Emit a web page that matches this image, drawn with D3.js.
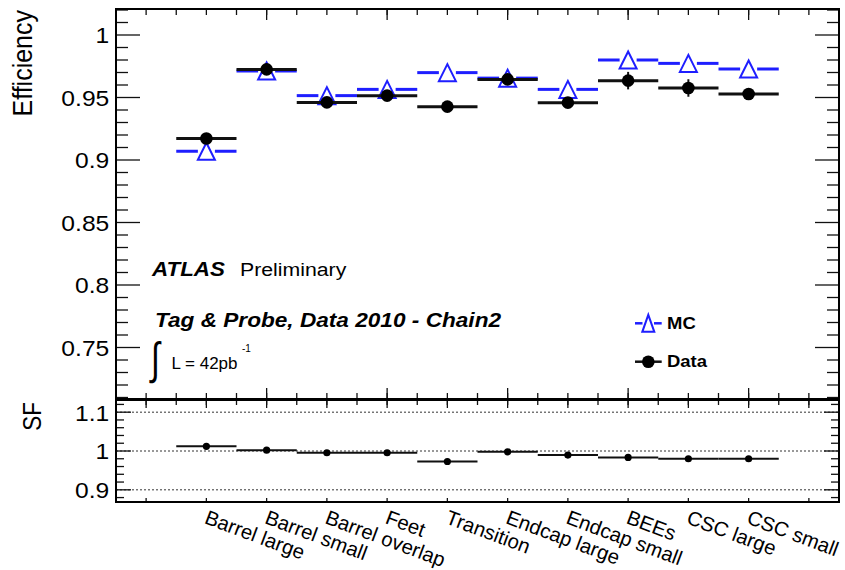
<!DOCTYPE html>
<html><head><meta charset="utf-8">
<script src="https://cdn.jsdelivr.net/npm/d3@7/dist/d3.min.js"></script>
<style>
body{margin:0;background:#fff}
svg{display:block}
text{font-family:"Liberation Sans",Arial,Helvetica,sans-serif;fill:#000}
</style>
</head><body>
<svg id="c" width="845" height="570"></svg>
<script>
// ---------------- data ----------------
const categories = ["Barrel large","Barrel small","Barrel overlap","Feet","Transition",
                    "Endcap large","Endcap small","BEEs","CSC large","CSC small"];
const mcEff   = [0.9070,0.9712,0.9515,0.9565,0.9699,0.9655,0.9565,0.9800,0.9773,0.9728];
const dataEff = [0.9172,0.9725,0.9461,0.9515,0.9427,0.9645,0.9459,0.9635,0.9576,0.9528];
const dataErr = [0.003,0.002,0.002,0.002,0.002,0.002,0.002,0.007,0.007,0.003];
const sfVals  = [1.012,1.002,0.9955,0.9955,0.973,0.998,0.9895,0.9835,0.980,0.980];
const effTicks = [0.75,0.8,0.85,0.9,0.95,1];
const effTickLabels = ["0.75","0.8","0.85","0.9","0.95","1"];
const sfTicks = [0.9,1,1.1];
const sfTickLabels = ["0.9","1","1.1"];

// ---------------- layout ----------------
const L=116, R=839, T1=9, B1=399, T2=400, B2=502;
const SX=1.12; // horizontal text stretch
const BLUE="#1e1eff", BLK="#111";
const svg=d3.select("#c");
svg.append("rect").attr("width",845).attr("height",570).attr("fill","#fff");

const x=d3.scaleLinear().domain([0,categories.length+2]).range([L,R]);
const yTop=d3.scaleLinear().domain([0.7088,1.0208]).range([B1,T1]);
const yBot=d3.scaleLinear().domain([0.8686,1.1314]).range([B2,T2]);

const g=svg.append("g");

// dotted grid lines in ratio panel
g.selectAll("line.grid").data(sfTicks).join("line")
  .attr("x1",L).attr("x2",R).attr("y1",d=>yBot(d)).attr("y2",d=>yBot(d))
  .attr("stroke","#333").attr("stroke-width",1).attr("stroke-dasharray","2,2");

// helper tick drawers
function vTicks(scale,vals,xPos,len){
  g.append("g").selectAll("line").data(vals).join("line")
    .attr("x1",xPos).attr("x2",xPos+len)
    .attr("y1",d=>scale(d)).attr("y2",d=>scale(d))
    .attr("stroke",BLK).attr("stroke-width",1.3);
}
function hTicks(vals,yPos,len){
  g.append("g").selectAll("line").data(vals).join("line")
    .attr("x1",d=>x(d)).attr("x2",d=>x(d))
    .attr("y1",yPos).attr("y2",yPos+len)
    .attr("stroke",BLK).attr("stroke-width",1.3);
}
const round=v=>Math.round(v*1000)/1000;
const effMinor=d3.range(71,103).map(v=>v/100).filter(v=>!effTicks.some(t=>Math.abs(t-v)<1e-6));
const sfMinor=d3.range(44,57).map(v=>round(v*0.02)).filter(v=>!sfTicks.some(t=>Math.abs(t-v)<1e-6));
const halfBins=d3.range(1,24).map(v=>v/2);
const binCenters=d3.range(categories.length+2).map(i=>i+0.5);
const topMajor=[2.5,4.5,6.5,8.5,10.5];

// top panel ticks
vTicks(yTop,effTicks,L,24); vTicks(yTop,effMinor,L,12);
vTicks(yTop,effTicks,R,-24); vTicks(yTop,effMinor,R,-12);
hTicks(halfBins,T1,6); hTicks(topMajor,T1,11);
hTicks(halfBins,B1,-6); hTicks(topMajor,B1,-11);
// bottom panel ticks
vTicks(yBot,sfTicks,L,15); vTicks(yBot,sfMinor,L,8);
vTicks(yBot,sfTicks,R,-15); vTicks(yBot,sfMinor,R,-8);
hTicks(halfBins,T2,5); hTicks(binCenters,T2,8);
hTicks(binCenters,B2,-4);

// y axes labels via d3 axes
function yLabels(scale,vals,labels,fs){
  const ax=g.append("g").attr("transform",`translate(${L},0)`)
    .call(d3.axisLeft(scale).tickValues(vals).tickSize(0).tickPadding(6)
      .tickFormat((d,i)=>labels[i]));
  ax.select(".domain").remove();
  ax.selectAll("text").attr("font-size",fs)
    .attr("font-family",'"Liberation Sans",Arial,Helvetica,sans-serif')
    .attr("fill","#000").attr("dy","0.36em")
    .attr("transform",`scale(${SX},1)`);
}
yLabels(yTop,effTicks,effTickLabels,22);
yLabels(yBot,sfTicks,sfTickLabels,22);

// frames
g.append("rect").attr("x",L).attr("y",T1).attr("width",R-L).attr("height",B1-T1)
  .attr("fill","none").attr("stroke","#000").attr("stroke-width",2);
g.append("rect").attr("x",L).attr("y",T2).attr("width",R-L).attr("height",B2-T2)
  .attr("fill","none").attr("stroke","#000").attr("stroke-width",2);

// axis titles
svg.append("text").attr("transform",`translate(32,10) scale(${SX},1) rotate(-90)`)
  .attr("text-anchor","end").attr("font-size",25).text("Efficiency");
svg.append("text").attr("transform",`translate(41,402) scale(${SX},1) rotate(-90)`)
  .attr("text-anchor","end").attr("font-size",22.5).text("SF");

// ---------------- MC ----------------
const TRI=8.5;
const idx=d3.range(categories.length);
const mcG=svg.append("g");
mcG.selectAll("line.l").data(idx).join("line")
  .attr("x1",i=>x(i+1)).attr("x2",i=>x(i+1.5)-TRI)
  .attr("y1",i=>yTop(mcEff[i])).attr("y2",i=>yTop(mcEff[i]))
  .attr("stroke",BLUE).attr("stroke-width",3);
mcG.selectAll("line.r").data(idx).join("line")
  .attr("x1",i=>x(i+1.5)+TRI).attr("x2",i=>x(i+2))
  .attr("y1",i=>yTop(mcEff[i])).attr("y2",i=>yTop(mcEff[i]))
  .attr("stroke",BLUE).attr("stroke-width",3);
function triPath(cx,cy,w,h){return `M${cx},${cy-h}L${cx+w},${cy+h}L${cx-w},${cy+h}Z`;}
mcG.selectAll("path").data(idx).join("path")
  .attr("d",i=>triPath(x(i+1.5),yTop(mcEff[i]),TRI,TRI))
  .attr("fill","none").attr("stroke",BLUE).attr("stroke-width",2);

// ---------------- Data ----------------
const dG=svg.append("g");
dG.selectAll("line.h").data(idx).join("line")
  .attr("x1",i=>x(i+1)).attr("x2",i=>x(i+2))
  .attr("y1",i=>yTop(dataEff[i])).attr("y2",i=>yTop(dataEff[i]))
  .attr("stroke",BLK).attr("stroke-width",3);
dG.selectAll("line.v").data(idx).join("line")
  .attr("x1",i=>x(i+1.5)).attr("x2",i=>x(i+1.5))
  .attr("y1",i=>yTop(dataEff[i]-dataErr[i])).attr("y2",i=>yTop(dataEff[i]+dataErr[i]))
  .attr("stroke",BLK).attr("stroke-width",2);
dG.selectAll("circle").data(idx).join("circle")
  .attr("cx",i=>x(i+1.5)).attr("cy",i=>yTop(dataEff[i])).attr("r",6.3).attr("fill","#000");

// ---------------- SF ----------------
const sG=svg.append("g");
sG.selectAll("line").data(idx).join("line")
  .attr("x1",i=>x(i+1)).attr("x2",i=>x(i+2))
  .attr("y1",i=>yBot(sfVals[i])).attr("y2",i=>yBot(sfVals[i]))
  .attr("stroke",BLK).attr("stroke-width",2);
sG.selectAll("circle").data(idx).join("circle")
  .attr("cx",i=>x(i+1.5)).attr("cy",i=>yBot(sfVals[i])).attr("r",3.6).attr("fill","#000");

// ---------------- category labels ----------------
svg.append("g").selectAll("text").data(categories).join("text")
  .attr("transform",(d,i)=>`translate(${x(i+1.5)-3},523) rotate(20.5)`)
  .attr("font-size",20.3).text(d=>d);

// ---------------- annotations ----------------
function stretchedText(px,py,fs,txt,weight,style){
  return svg.append("text").attr("transform",`translate(${px},${py}) scale(${SX},1)`)
    .attr("font-size",fs).attr("font-weight",weight||"normal")
    .attr("font-style",style||"normal").text(txt);
}
stretchedText(152,276,20,"ATLAS","bold","italic");
stretchedText(240,276,19,"Preliminary");
stretchedText(155,326.5,20.2,"Tag & Probe, Data 2010 - Chain2","bold","italic");
svg.append("text").attr("transform","translate(151,374) scale(0.9,1.25)")
  .attr("font-size",36).attr("font-family","DejaVu Sans").text("\u222B");
svg.append("text").attr("x",171.5).attr("y",368.5)
  .attr("font-size",17).text("L = 42pb");
svg.append("text").attr("x",242).attr("y",352).attr("font-size",10).text("-1");

// legend
const lg=svg.append("g");
lg.append("line").attr("x1",635).attr("x2",642.5).attr("y1",323.3).attr("y2",323.3).attr("stroke",BLUE).attr("stroke-width",2.5);
lg.append("line").attr("x1",654).attr("x2",661.7).attr("y1",323.3).attr("y2",323.3).attr("stroke",BLUE).attr("stroke-width",2.5);
lg.append("path").attr("d",triPath(648.3,323.3,6,8.5)).attr("fill","none").attr("stroke",BLUE).attr("stroke-width",2);
lg.append("line").attr("x1",635).attr("x2",661.7).attr("y1",361.7).attr("y2",361.7).attr("stroke",BLK).attr("stroke-width",2.5);
lg.append("circle").attr("cx",648.3).attr("cy",361.7).attr("r",6.3).attr("fill","#000");
stretchedText(667,328.5,16.5,"MC","bold");
stretchedText(667,367,16.5,"Data","bold");
</script>
</body></html>
